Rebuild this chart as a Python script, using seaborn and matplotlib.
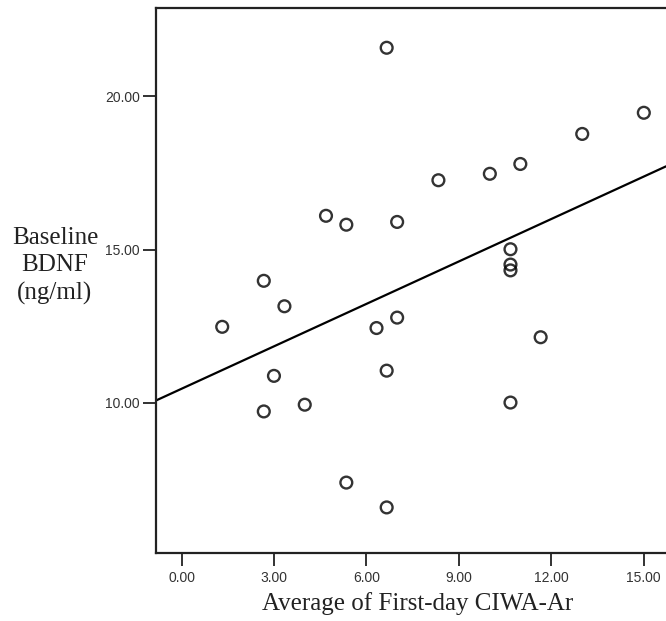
import matplotlib
matplotlib.use("Agg")
import matplotlib.pyplot as plt
import seaborn as sns
import pandas as pd

ciwa = [6.66, 15.01, 13.01, 11.00, 10.01, 8.34, 4.69, 5.35, 7.00, 10.68, 10.68, 10.68,
        2.67, 3.34, 1.32, 6.33, 7.00, 11.66, 6.66, 3.00, 2.67, 4.00, 10.68, 5.35, 6.66]
bdnf = [21.58, 19.46, 18.77, 17.79, 17.47, 17.26, 16.10, 15.81, 15.90, 15.01, 14.51, 14.32,
        13.98, 13.15, 12.48, 12.44, 12.78, 12.14, 11.05, 10.88, 9.72, 9.94, 10.01, 7.40, 6.59]
xticks = [0, 3, 6, 9, 12, 15]
yticks = [10, 15, 20]

df = pd.DataFrame({"ciwa": ciwa, "bdnf": bdnf})

sns.set_style("white")
fig = plt.figure(figsize=(6.66, 6.21), dpi=100)
ax = fig.add_axes([156 / 666, 1 - 552.5 / 621, 1 - 156 / 666, (552.5 - 7.9) / 621])
ax.set_xlim(-0.83, 15.73)
ax.set_ylim(5.12, 22.88)

sns.regplot(data=df, x="ciwa", y="bdnf", ax=ax, ci=None, truncate=False,
            scatter_kws=dict(s=72, facecolors="none", edgecolors="black", linewidths=1.7),
            line_kws=dict(color="black", linewidth=1.6))
ax.set_xlim(-0.83, 15.73)
ax.set_ylim(5.12, 22.88)

ax.set_xticks(xticks)
ax.set_xticklabels([f"{v:.2f}" for v in xticks])
ax.set_yticks(yticks)
ax.set_yticklabels([f"{v:.2f}" for v in yticks])
ax.tick_params(axis="both", direction="out", length=9.5, width=1.3, color="#222222",
               labelsize=10, labelcolor="#333333", bottom=True, left=True)
ax.tick_params(axis="x", pad=4)
ax.tick_params(axis="y", pad=2)
for lab in ax.get_xticklabels() + ax.get_yticklabels():
    lab.set_family("Liberation Sans")

ax.spines["right"].set_visible(False)
for s in ["left", "top", "bottom"]:
    ax.spines[s].set_linewidth(1.6)
    ax.spines[s].set_color("#222222")
ax.set_xlabel("")
ax.set_ylabel("")

fig.text(418 / 666, 1 - 604 / 621, "Average of First-day CIWA-Ar", ha="center", va="center",
         family="Liberation Serif", fontsize=18, color="#222222")
fig.text(55 / 666, 1 - 266 / 621, "Baseline\nBDNF\n(ng/ml)", ha="center", va="center",
         multialignment="center", family="Liberation Serif", fontsize=18, color="#222222",
         linespacing=1.3)

fig.savefig("out.png", dpi=100)
